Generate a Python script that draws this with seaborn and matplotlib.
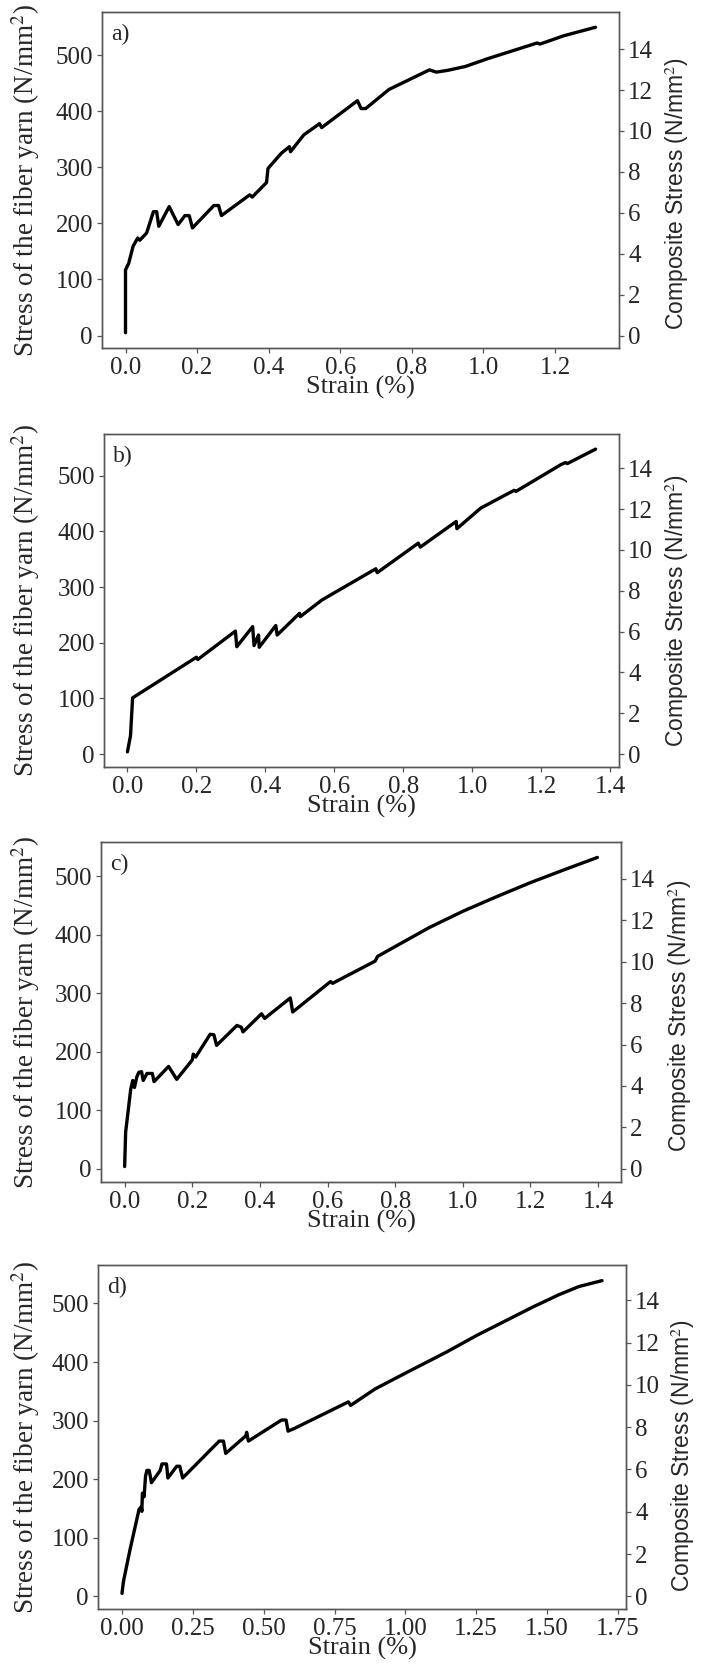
import numpy as np
import pandas as pd
import matplotlib
matplotlib.use("Agg")
import matplotlib.pyplot as plt
import seaborn as sns

# ---------------- data ----------------
strain_a = [0.0, 0.0, 0.009, 0.021, 0.034, 0.040, 0.059, 0.078, 0.087, 0.093, 0.122, 0.147,
            0.166, 0.178, 0.187, 0.247, 0.260, 0.268, 0.347, 0.354, 0.394, 0.398, 0.435,
            0.458, 0.461, 0.498, 0.542, 0.548, 0.648, 0.658, 0.671, 0.736, 0.849, 0.868,
            0.899, 0.949, 1.012, 1.150, 1.158, 1.225, 1.313]
stress_a = [5, 117, 129, 159, 174, 170, 183, 221, 221, 195, 230, 198,
            214, 214, 192, 232, 232, 214, 251, 247, 273, 298, 325,
            337, 328, 358, 378, 371, 419, 405, 405, 439, 474, 470,
            473, 480, 494, 522, 520, 535, 550]

strain_b = [0.0, 0.009, 0.015, 0.200, 0.204, 0.313, 0.317, 0.363, 0.367, 0.380, 0.382,
            0.430, 0.434, 0.499, 0.501, 0.564, 0.720, 0.724, 0.843, 0.849, 0.953, 0.955,
            1.024, 1.121, 1.126, 1.256, 1.270, 1.275, 1.357]
stress_b = [4, 33, 101, 174, 170, 221, 193, 229, 195, 214, 192,
            231, 214, 253, 247, 277, 333, 326, 379, 372, 418, 405,
            442, 474, 472, 520, 524, 522, 548]

strain_c = [0.0, 0.003, 0.018, 0.024, 0.029, 0.036, 0.042, 0.050, 0.055, 0.066, 0.082,
            0.087, 0.130, 0.154, 0.200, 0.203, 0.210, 0.253, 0.264, 0.272, 0.332, 0.345,
            0.350, 0.405, 0.414, 0.490, 0.497, 0.609, 0.615, 0.741, 0.748, 0.900, 1.000,
            1.100, 1.200, 1.300, 1.398]
stress_c = [4, 63, 136, 151, 139, 157, 165, 166, 151, 163, 163,
            149, 175, 153, 186, 196, 191, 230, 229, 211, 245, 242,
            234, 265, 257, 292, 268, 320, 317, 355, 363, 412, 440,
            465, 489, 511, 532]

strain_d = [0.0, 0.005, 0.028, 0.060, 0.068, 0.070, 0.072, 0.078, 0.083, 0.088, 0.096,
            0.104, 0.135, 0.141, 0.157, 0.162, 0.193, 0.204, 0.214, 0.343, 0.358, 0.366,
            0.437, 0.440, 0.446, 0.563, 0.579, 0.586, 0.610, 0.799, 0.807, 0.893, 1.000,
            1.145, 1.250, 1.450, 1.542, 1.613, 1.694]
stress_d = [5, 25, 79, 148, 153, 145, 176, 170, 205, 215, 215,
            194, 215, 226, 226, 202, 222, 222, 202, 265, 265, 244,
            274, 280, 265, 301, 301, 282, 287, 332, 326, 354, 381,
            417, 445, 494, 515, 529, 539]

panel_labels = ["a)", "b)", "c)", "d)"]
# yarn stress per unit of composite stress
composite_ratio = [36.5, 36.7, 35.4, 36.1]
yarn_ticks = [0, 100, 200, 300, 400, 500]
comp_ticks = [0, 2, 4, 6, 8, 10, 12, 14]
x_ticks_abc = [0.0, 0.2, 0.4, 0.6, 0.8, 1.0, 1.2, 1.4]
x_ticks_d = [0.00, 0.25, 0.50, 0.75, 1.00, 1.25, 1.50, 1.75]

series = [(strain_a, stress_a), (strain_b, stress_b), (strain_c, stress_c), (strain_d, stress_d)]

# ---------------- style ----------------
sns.set_style("white")
plt.rcParams["font.family"] = ["Liberation Serif", "DejaVu Serif"]
plt.rcParams["mathtext.fontset"] = "stix"

W, H = 701, 1666
fig = plt.figure(figsize=(W / 100, H / 100), dpi=100)

# axes boxes in pixels: left, right, top, bottom
boxes = [(102, 619, 12, 348), (104, 619, 434, 767), (101, 621, 842, 1182), (98, 626, 1265, 1609)]
right_label_x = [663, 663, 666, 669]
right_label_y = [0.46, 0.47, 0.49, 0.445]
spine_col = "#555555"

for i, ((xs, ys), (l, r, t, b)) in enumerate(zip(series, boxes)):
    w, h = r - l, b - t
    ax = fig.add_axes([l / W, 1 - b / H, w / W, h / H])
    df = pd.DataFrame({"strain": xs, "stress": ys})
    sns.lineplot(data=df, x="strain", y="stress", ax=ax, color="black", lw=2.4,
                 sort=False, estimator=None)
    ax.set_yticks(yarn_ticks)
    if i == 3:
        ax.set_xticks(x_ticks_d)
        ax.set_xticklabels([f"{v:.2f}" for v in x_ticks_d])
    else:
        xt = x_ticks_abc if i > 0 else x_ticks_abc[:-1]
        ax.set_xticks(xt)
        ax.set_xticklabels([f"{v:.1f}" for v in xt])
    ax.set_xlim(min(xs) - 0.05 * (max(xs) - min(xs)), max(xs) + 0.05 * (max(xs) - min(xs)))
    ylo = min(ys) - 0.05 * (max(ys) - min(ys))
    yhi = max(ys) + 0.05 * (max(ys) - min(ys))
    ax.set_ylim(ylo, yhi)
    ax.set_xlabel("Strain (%)", fontsize=19, labelpad=-2)
    ax.set_ylabel("Stress of the fiber yarn (N/mm$^2$)", fontsize=19.5)
    ax.yaxis.set_label_coords((42 - l) / w, 0.5)
    ax.tick_params(axis="both", which="major", labelsize=18, length=3.5, width=0.9,
                   color=spine_col, direction="out", pad=3)
    ax.tick_params(left=True, bottom=True, right=False, top=False)
    for s in ax.spines.values():
        s.set_color(spine_col)
        s.set_linewidth(1.0)
    ax.text(9 / w, 1 - 12 / h, panel_labels[i], transform=ax.transAxes, fontsize=17,
            ha="left", va="top")

    ax2 = ax.twinx()
    ax2.set_ylim(ylo / composite_ratio[i], yhi / composite_ratio[i])
    ax2.set_yticks(comp_ticks)
    ax2.set_ylabel("Composite Stress (N/mm$^2$)", fontsize=16.5,
                   family=["Liberation Sans", "DejaVu Sans"])
    ax2.yaxis.set_label_coords((right_label_x[i] - l) / w, right_label_y[i])
    ax2.tick_params(axis="y", labelsize=18, length=3.5, width=0.9, color=spine_col,
                    direction="out", pad=3, right=True)
    for s in ax2.spines.values():
        s.set_color(spine_col)
        s.set_linewidth(1.0)

fig.savefig("out.png", dpi=100)
